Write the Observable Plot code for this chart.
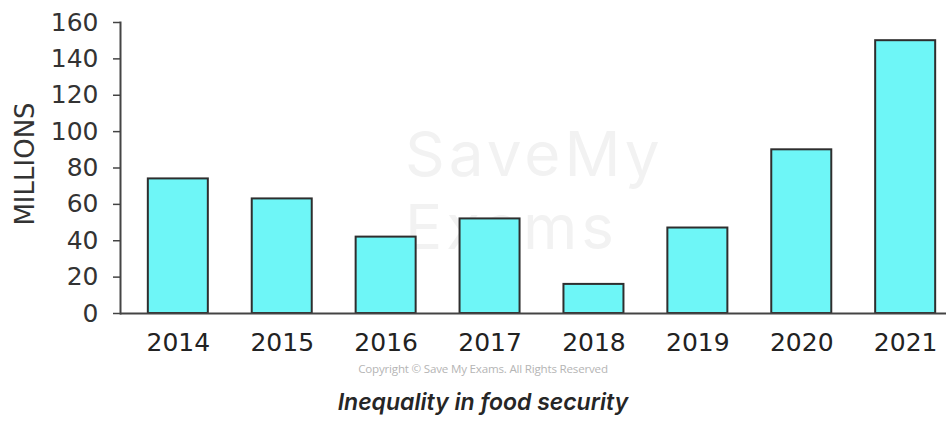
<!DOCTYPE html>
<html>
<head>
<meta charset="utf-8">
<script src="https://cdn.jsdelivr.net/npm/d3@7"></script>
<script src="https://cdn.jsdelivr.net/npm/@observablehq/plot@0.6"></script>
<style>
  html, body { margin: 0; padding: 0; background: #fff; }
  #wrap { position: relative; width: 946px; height: 428px; overflow: hidden; font-family: "DejaVu Sans", sans-serif; }
  .wm { position: absolute; color: #f2f2f2; font-family: Inter, "Open Sans", sans-serif; font-size: 62px; line-height: 72px; letter-spacing: 4px; z-index: 0; white-space: nowrap; }
  #wm1 { left: 405px; top: 118px; }
  #wm2 { left: 405px; top: 191px; }
  #chart { position: absolute; left: 0; top: 0; z-index: 1; }
  #copy { position: absolute; left: 0; width: 966px; top: 361px; text-align: center; font-family: "Open Sans", sans-serif; font-size: 11.6px; color: #b5b5b5; letter-spacing: -0.2px; }
  #cap { position: absolute; left: 0; width: 966px; top: 388px; text-align: center; font-family: Inter, "Open Sans", sans-serif; font-style: italic; font-weight: 600; font-size: 23px; color: #262626; }
</style>
</head>
<body>
<div id="wrap">
  <div class="wm" id="wm1">SaveMy</div>
  <div class="wm" id="wm2">Exams</div>
  <div id="chart"></div>
  <div id="copy">Copyright © Save My Exams. All Rights Reserved</div>
  <div id="cap">Inequality in food security</div>
</div>
<script>
const years = ["2014", "2015", "2016", "2017", "2018", "2019", "2020", "2021"];
const millions = [74, 63, 42, 52, 16, 47, 90, 150];
const yTicks = [0, 20, 40, 60, 80, 100, 120, 140, 160];
const yLabel = "MILLIONS";

const data = years.map((y, i) => ({year: y, value: millions[i]}));

const svg = Plot.plot({
  width: 946,
  height: 380,
  marginLeft: 120,
  marginRight: 0,
  marginTop: 22,
  marginBottom: 67,
  style: {background: "transparent", fontFamily: "DejaVu Sans, sans-serif", color: "#333"},
  x: {domain: years, paddingInner: 0.4225, paddingOuter: 0.186, align: 0.72, round: false, label: null},
  y: {domain: [0, 160], label: null},
  marks: [
    Plot.barY(data, {x: "year", y: "value", fill: "#6ef6f7", stroke: "#2e2e2e", strokeWidth: 2}),
    Plot.ruleY([0], {stroke: "#444", strokeWidth: 2}),
    Plot.frame({anchor: "left", stroke: "#444", strokeWidth: 2}),
    Plot.axisY(yTicks, {tickSize: 7, tickPadding: 15, fontSize: 25, label: null, stroke: "#444", strokeWidth: 1.5, fill: "#333"}),
    Plot.axisX({tickSize: 0, tickPadding: 20, fontSize: 25, label: null, fill: "#222"}),
    Plot.text([yLabel], {frameAnchor: "left", textAnchor: "middle", rotate: -90, dx: -95, dy: -4, fontSize: 26, fill: "#333"})
  ]
});
document.getElementById("chart").appendChild(svg);
</script>
</body>
</html>
